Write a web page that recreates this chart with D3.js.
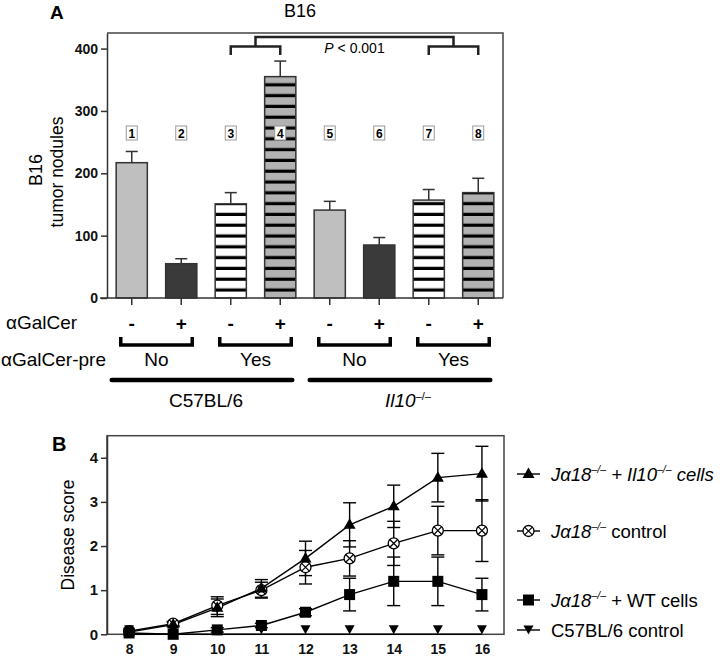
<!DOCTYPE html>
<html><head><meta charset="utf-8">
<script src="https://cdn.jsdelivr.net/npm/d3@7"></script>
<style>body{margin:0;background:#fff} svg{display:block;font-family:"Liberation Sans",Arial,sans-serif}</style>
</head><body><svg id="c" width="724" height="661"></svg>
<script>
// ---------- Panel A data ----------
const barIds = ["1","2","3","4","5","6","7","8"];
const barValues = [217, 55, 151, 355, 141, 85, 157, 169];
const barErrors = [18, 8, 18, 25, 14, 12, 17, 23];
const galcer = ["-","+","-","+","-","+","-","+"];
const galcerPre = ["No","No","Yes","Yes","No","No","Yes","Yes"];
const preGroups = ["No","Yes","No","Yes"];
const strains = ["C57BL/6","Il10"];
const yTicksA = [0,100,200,300,400];
// ---------- Panel B data ----------
const days = [8,9,10,11,12,13,14,15,16];
const il10Cells = [0.05,0.22,0.60,1.04,1.72,2.48,2.90,3.55,3.64];
const il10CellsErr = [0,0.05,0.2,0.2,0.39,0.5,0.48,0.55,0.62];
const jaControl = [0.07,0.24,0.65,1.0,1.52,1.72,2.06,2.35,2.35];
const jaControlErr = [0,0.05,0.2,0.18,0.38,0.4,0.5,0.55,0.7];
const wtCells = [0.03,0,0.1,0.2,0.5,0.9,1.2,1.2,0.9];
const wtCellsErr = [0,0,0.05,0.05,0.08,0.37,0.55,0.55,0.37];
const b6Control = [0,0,0,0,0,0,0,0,0];
const b6ControlErr = [0,0,0,0,0,0,0,0,0];
const yTicksB = [0,1,2,3,4];

const svg = d3.select("#c");
const defs = svg.append("defs");
function stripes(id, bg){
  const p = defs.append("pattern").attr("id",id).attr("patternUnits","userSpaceOnUse")
    .attr("width",10).attr("height",10.8);
  p.append("rect").attr("width",10).attr("height",10.8).attr("fill",bg);
  p.append("rect").attr("y",7.6).attr("width",10).attr("height",3.2).attr("fill","#000");
}
stripes("sw","#fff"); stripes("sg","#b2b2b2");
function fillFor(i){
  if(galcerPre[i]==="No") return galcer[i]==="-" ? "#bfbfbf" : "#3a3a3a";
  return galcer[i]==="-" ? "url(#sw)" : "url(#sg)";
}

// ---------- Panel A ----------
const xA = d3.scaleBand().domain(barIds).range([107,503]).paddingInner(0.37).paddingOuter(0.185);
const yA = d3.scaleLinear().domain([0,425]).range([298,33]);
const cx = i => xA(barIds[i]) + xA.bandwidth()/2;

svg.append("text").attr("x",50).attr("y",19).attr("font-size",19).attr("font-weight","bold").text("A");
svg.append("text").attr("x",300).attr("y",17).attr("text-anchor","middle").attr("font-size",18).text("B16");

const gA = svg.append("g");
gA.selectAll("rect.bar").data(barValues).join("rect").attr("class","bar")
  .attr("x",(d,i)=>xA(barIds[i])).attr("width",xA.bandwidth())
  .attr("y",d=>yA(d)).attr("height",d=>yA(0)-yA(d))
  .attr("fill",(d,i)=>fillFor(i)).attr("stroke","#333").attr("stroke-width",1.5);
barValues.forEach((v,i)=>{
  const c = cx(i), top = yA(v+barErrors[i]);
  gA.append("line").attr("x1",c).attr("x2",c).attr("y1",yA(v)).attr("y2",top).attr("stroke","#333").attr("stroke-width",1.5);
  gA.append("line").attr("x1",c-6).attr("x2",c+6).attr("y1",top).attr("y2",top).attr("stroke","#333").attr("stroke-width",1.5);
});
barIds.forEach((id,i)=>{
  const c = cx(i);
  gA.append("rect").attr("x",c-5.5).attr("y",126).attr("width",11).attr("height",14)
    .attr("fill","#fff").attr("stroke","#999").attr("stroke-width",1);
  gA.append("text").attr("x",c).attr("y",137.5).attr("text-anchor","middle")
    .attr("font-size",12).attr("font-weight","bold").text(id);
});
gA.append("path").attr("d",`M107,${yA(425)}H503V298`).attr("fill","none").attr("stroke","#444").attr("stroke-width",1.5);
gA.append("line").attr("x1",100).attr("x2",503).attr("y1",298).attr("y2",298).attr("stroke","#333").attr("stroke-width",1.5);
const axA = d3.axisLeft(yA).tickValues(yTicksA).tickSize(6).tickSizeOuter(0).tickPadding(3).tickFormat(d3.format("d"));
const ga = svg.append("g").attr("transform","translate(107,0)").call(axA);
ga.select(".domain").attr("stroke","#333").attr("stroke-width",1.5);
ga.selectAll(".tick line").attr("stroke","#333").attr("stroke-width",1.5);
ga.selectAll(".tick text").attr("font-size",14).attr("font-weight","bold").attr("font-family","Liberation Sans, Arial, sans-serif").attr("fill","#111");
barIds.forEach((id,i)=>{
  gA.append("line").attr("x1",cx(i)).attr("x2",cx(i)).attr("y1",298).attr("y2",305).attr("stroke","#333").attr("stroke-width",1.5);
});
svg.append("text").attr("transform","translate(42,170) rotate(-90)").attr("text-anchor","middle").attr("font-size",18).text("B16");
svg.append("text").attr("transform","translate(63,172) rotate(-90)").attr("text-anchor","middle").attr("font-size",17.5).text("tumor nodules");
const br = svg.append("g").attr("fill","none").attr("stroke","#222").attr("stroke-width",2.5);
const m34 = (cx(2)+cx(3))/2, m78 = (cx(6)+cx(7))/2;
br.append("path").attr("d",`M${cx(2)},55V46.5H${cx(3)}V55`);
br.append("path").attr("d",`M${cx(6)},55V46.5H${cx(7)}V55`);
br.append("path").attr("d",`M${m34},46.5V37H${m78}V46.5`);
const pt = svg.append("text").attr("x",(m34+m78)/2).attr("y",53).attr("text-anchor","middle").attr("font-size",14);
pt.append("tspan").attr("font-style","italic").text("P");
pt.append("tspan").text(" < 0.001");

svg.append("text").attr("x",6).attr("y",329).attr("font-size",19).text("\u03b1GalCer");
svg.append("text").attr("x",1).attr("y",366).attr("font-size",19).text("\u03b1GalCer-pre");
galcer.forEach((s,i)=>{
  svg.append("text").attr("x",cx(i)).attr("y",330).attr("text-anchor","middle").attr("font-size",19).attr("font-weight","bold").text(s);
});
preGroups.forEach((g,k)=>{
  const a = cx(2*k), b = cx(2*k+1);
  svg.append("path").attr("d",`M${a-11},337V345H${b+11}V337`).attr("fill","none").attr("stroke","#000").attr("stroke-width",3.5);
  svg.append("text").attr("x",(a+b)/2).attr("y",366).attr("text-anchor","middle").attr("font-size",19).text(g);
});
strains.forEach((s,k)=>{
  const a = cx(4*k), b = cx(4*k+3);
  svg.append("line").attr("x1",a-20).attr("x2",b+12).attr("y1",380).attr("y2",380).attr("stroke","#000").attr("stroke-width",4.5).attr("stroke-linecap","round");
  const t = svg.append("text").attr("x",(a+b)/2+(k?4:0)).attr("y",407).attr("text-anchor","middle").attr("font-size",19);
  if(k===0) t.text(s);
  else { t.append("tspan").attr("font-style","italic").text(s);
         t.append("tspan").attr("font-size",11).attr("dy",-7).text("\u2013/\u2013"); }
});

// ---------- Panel B ----------
const xB = d3.scaleLinear().domain([7.5,16.5]).range([107,504]);
const yB = d3.scaleLinear().domain([0,4.5]).range([634.3,435.7]);
svg.append("text").attr("x",52).attr("y",451).attr("font-size",20).attr("font-weight","bold").text("B");
svg.append("rect").attr("x",107).attr("y",yB(4.5)).attr("width",504-107).attr("height",yB(0)-yB(4.5))
  .attr("fill","none").attr("stroke","#444").attr("stroke-width",1.5);
const axB = d3.axisLeft(yB).tickValues(yTicksB).tickSize(6).tickSizeOuter(0).tickPadding(3).tickFormat(d3.format("d"));
const gb = svg.append("g").attr("transform","translate(107,0)").call(axB);
gb.select(".domain").attr("stroke","#333").attr("stroke-width",1.5);
gb.selectAll(".tick line").attr("stroke","#333").attr("stroke-width",1.5);
gb.selectAll(".tick text").attr("font-size",15).attr("font-weight","bold").attr("font-family","Liberation Sans, Arial, sans-serif").attr("fill","#111");
const axBx = d3.axisBottom(xB).tickValues(days).tickSize(0).tickPadding(10).tickFormat(d3.format("d"));
const gbx = svg.append("g").attr("transform",`translate(0,${yB(0)})`).call(axBx);
gbx.select(".domain").remove();
gbx.selectAll(".tick text").attr("font-size",14).attr("font-weight","bold").attr("font-family","Liberation Sans, Arial, sans-serif").attr("fill","#111");
svg.append("text").attr("transform",`translate(74,${(yB(0)+yB(4.5))/2}) rotate(-90)`).attr("text-anchor","middle").attr("font-size",17.5).text("Disease score");

const series = [
  {vals:jaControl, err:jaControlErr, mk:"circle"},
  {vals:wtCells, err:wtCellsErr, mk:"square"},
  {vals:b6Control, err:b6ControlErr, mk:"down"},
  {vals:il10Cells, err:il10CellsErr, mk:"up"}
];
function marker(g, kind, x, y){
  if(kind==="circle"){
    g.append("circle").attr("cx",x).attr("cy",y).attr("r",5.5).attr("fill","#fff").attr("stroke","#000").attr("stroke-width",1.3);
    const r=3.9;
    g.append("path").attr("d",`M${x-r},${y-r}L${x+r},${y+r}M${x-r},${y+r}L${x+r},${y-r}`).attr("stroke","#000").attr("stroke-width",1.2);
  } else if(kind==="square"){
    g.append("rect").attr("x",x-5.5).attr("y",y-5.5).attr("width",11).attr("height",11).attr("fill","#000");
  } else if(kind==="up"){
    g.append("path").attr("d",`M${x},${y-6.5}L${x+6},${y+4}L${x-6},${y+4}Z`).attr("fill","#000");
  } else {
    g.append("path").attr("d",`M${x-5},${y-9}L${x+5},${y-9}L${x},${y}Z`).attr("fill","#000");
  }
}
const gB = svg.append("g");
series.forEach(s=>{
  gB.append("path").datum(s.vals).attr("fill","none").attr("stroke","#000").attr("stroke-width",1.4)
    .attr("d", d3.line().x((d,i)=>xB(days[i])).y(d=>yB(d)));
});
series.forEach(s=>{
  s.vals.forEach((v,i)=>{
    const e = s.err[i]; if(!e) return;
    const x = xB(days[i]), y1 = yB(v-e), y2 = yB(v+e);
    gB.append("line").attr("x1",x).attr("x2",x).attr("y1",y1).attr("y2",y2).attr("stroke","#000").attr("stroke-width",1.4);
    [y1,y2].forEach(yy=>gB.append("line").attr("x1",x-6.5).attr("x2",x+6.5).attr("y1",yy).attr("y2",yy).attr("stroke","#000").attr("stroke-width",1.4));
  });
});
series.forEach(s=>{ s.vals.forEach((v,i)=>marker(gB, s.mk, xB(days[i]), yB(v))); });

const legend = [
  {mk:"up", y:474, parts:[["J\u03b1","i"],["18","i"],["\u2013/\u2013","s"],[" + ","i"],["Il10","i"],["\u2013/\u2013","s"],[" cells","i"]]},
  {mk:"circle", y:531, parts:[["J\u03b1","i"],["18","i"],["\u2013/\u2013","s"],[" control","n"]]},
  {mk:"square", y:600, parts:[["J\u03b1","i"],["18","i"],["\u2013/\u2013","s"],[" + WT cells","n"]]},
  {mk:"down", y:630, parts:[["C57BL/6 control","n"]]}
];
legend.forEach(l=>{
  svg.append("line").attr("x1",517).attr("x2",540).attr("y1",l.y).attr("y2",l.y).attr("stroke","#000").attr("stroke-width",1.4);
  marker(svg, l.mk, 528.5, l.mk==="down" ? l.y+4.5 : l.y);
  const t = svg.append("text").attr("x",551).attr("y",l.y+6.5).attr("font-size",18.5);
  let sup = false;
  l.parts.forEach(([txt,st])=>{
    const ts = t.append("tspan").text(txt);
    if(st==="i") ts.attr("font-style","italic");
    if(st==="s"){ ts.attr("font-size",10.5).attr("dy",-7.5).attr("font-style","italic"); sup = true; }
    else if(sup){ ts.attr("dy",7.5); sup=false; }
  });
});
</script></body></html>
